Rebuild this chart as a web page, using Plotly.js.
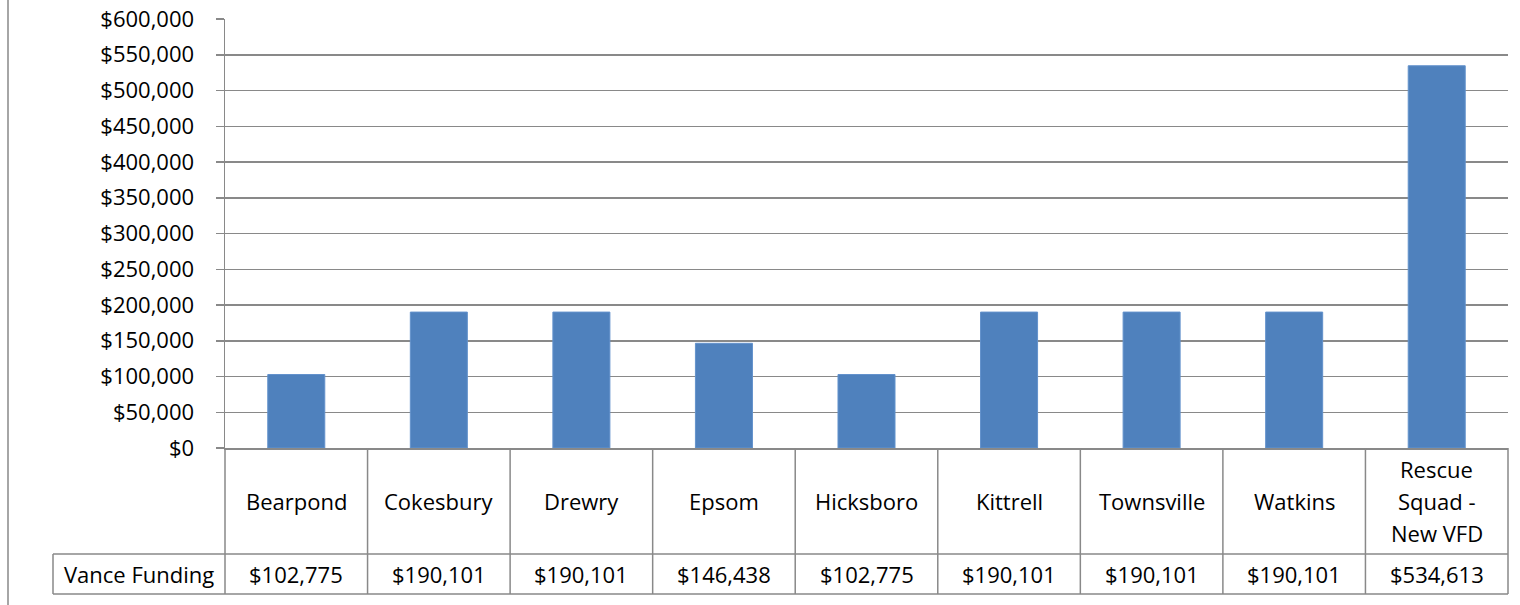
<!DOCTYPE html>
<html>
<head>
<meta charset="utf-8">
<script src="https://cdn.plot.ly/plotly-3.0.1.min.js"></script>
<style>html,body{margin:0;padding:0;background:#fff;}#chart{width:1520px;height:605px;}</style>
</head>
<body>
<div id="chart"></div>
<script>
var categories = ["Bearpond", "Cokesbury", "Drewry", "Epsom", "Hicksboro", "Kittrell", "Townsville", "Watkins", "Rescue Squad - New VFD"];
var categoryLabels = ["Bearpond", "Cokesbury", "Drewry", "Epsom", "Hicksboro", "Kittrell", "Townsville", "Watkins", "Rescue<br>Squad -<br>New VFD"];
var seriesName = "Vance Funding";
var funding = [102775, 190101, 190101, 146438, 102775, 190101, 190101, 190101, 534613];
var yTickValues = [0, 50000, 100000, 150000, 200000, 250000, 300000, 350000, 400000, 450000, 500000, 550000, 600000];

var FONT = "'Open Sans', 'Noto Sans', sans-serif";
var FS = 22;
var LINE_SPACING = 32;
var LINE = "#898989";

// Layout geometry (pixels)
var W = 1520, H = 605;
var L = 225, R = 12, T = 19, B = 157;
var plotW = W - L - R, plotH = H - T - B;
function px2paperX(px) { return (px - L) / plotW; }
function px2paperY(py) { return (H - B - py) / plotH; }

var n = categories.length;
var rowTop = px2paperY(448), rowMid = px2paperY(554), rowBot = px2paperY(594);
var leftCell = px2paperX(53);

var shapes = [];
function line(x0, y0, x1, y1) {
  shapes.push({type: "line", xref: "paper", yref: "paper", x0: x0, y0: y0, x1: x1, y1: y1,
    line: {color: LINE, width: 1.5}});
}
// page border on the left
line(px2paperX(8), px2paperY(0), px2paperX(8), px2paperY(605));
// table grid
for (var i = 0; i <= n; i++) {
  line(i / n, rowTop, i / n, rowBot);
}
line(leftCell, rowMid, 1, rowMid);
line(leftCell, rowBot, 1, rowBot);
line(leftCell, rowMid, leftCell, rowBot);

var annotations = [];
function fmt(v) { return "$" + v.toLocaleString("en-US"); }
for (var j = 0; j < n; j++) {
  var parts = categoryLabels[j].split("<br>");
  for (var k = 0; k < parts.length; k++) {
    annotations.push({xref: "x", yref: "paper", x: categories[j], y: (rowTop + rowMid) / 2,
      yshift: ((parts.length - 1) / 2 - k) * LINE_SPACING,
      text: parts[k], showarrow: false, xanchor: "center", yanchor: "middle",
      font: {family: FONT, size: FS, color: "#000"}});
  }
  annotations.push({xref: "x", yref: "paper", x: categories[j], y: (rowMid + rowBot) / 2,
    text: fmt(funding[j]), showarrow: false, xanchor: "center", yanchor: "middle",
    font: {family: FONT, size: FS, color: "#000"}});
}
annotations.push({xref: "paper", yref: "paper", x: (leftCell + 0) / 2, y: (rowMid + rowBot) / 2,
  text: seriesName, showarrow: false, xanchor: "center", yanchor: "middle",
  font: {family: FONT, size: FS, color: "#000"}});

var data = [{
  type: "bar",
  x: categories,
  y: funding,
  name: seriesName,
  marker: {color: "#4F81BD", line: {color: "#6392CC", width: 1}},
  hoverinfo: "x+y"
}];

var layout = {
  width: W, height: H,
  margin: {l: L, r: R, t: T, b: B, pad: 0},
  paper_bgcolor: "#fff", plot_bgcolor: "#fff",
  showlegend: false,
  bargap: 0.6,
  font: {family: FONT, size: FS, color: "#000"},
  xaxis: {
    type: "category",
    range: [-0.5, n - 0.5],
    showticklabels: false,
    showgrid: false,
    zeroline: false,
    showline: true, linecolor: LINE, linewidth: 1.5,
    ticks: "", fixedrange: true
  },
  yaxis: {
    range: [0, 600000],
    tickvals: yTickValues,
    ticktext: yTickValues.map(fmt),
    showgrid: true, gridcolor: LINE, gridwidth: 1.5,
    zeroline: false,
    showline: true, linecolor: LINE, linewidth: 1.5,
    ticks: "outside", ticklen: 8, tickcolor: LINE, tickwidth: 1.5,
    ticklabelstandoff: 17,
    tickfont: {family: FONT, size: FS, color: "#000"},
    fixedrange: true
  },
  shapes: shapes,
  annotations: annotations
};

Plotly.newPlot("chart", data, layout, {displayModeBar: false, staticPlot: true});
</script>
</body>
</html>
